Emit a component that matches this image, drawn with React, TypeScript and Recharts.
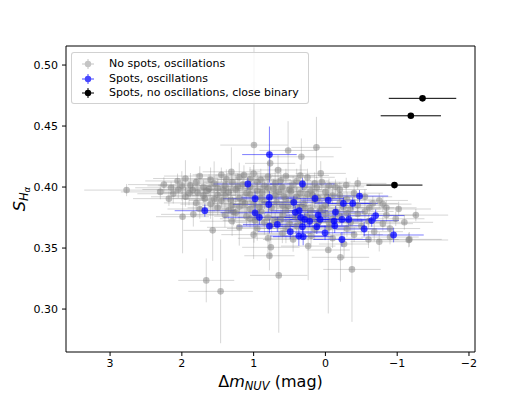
import React from 'react';
import { ScatterChart, Scatter, XAxis, YAxis, ErrorBar } from 'recharts';

// [x (Δm_NUV), y (S_Hα), xErr, yErr]
const grayPoints: number[][] = [
  [2.77, 0.3975, 0.59, 0.005], [2.18, 0.3905, 0.5, 0.006], [1.99, 0.3757, 0.37, 0.03], [1.84, 0.3776, 0.45, 0.01],
  [1.57, 0.3645, 0.41, 0.025], [1.66, 0.3235, 0.39, 0.018], [1.46, 0.3145, 0.45, 0.0425], [0.65, 0.3276, 0.4, 0.047],
  [0.78, 0.3437, 0.35, 0.012], [0.76, 0.3506, 0.4, 0.01], [0.24, 0.3516, 0.38, 0.028], [-0.04, 0.3484, 0.3, 0.052],
  [-0.21, 0.3424, 0.4, 0.02], [-0.37, 0.3325, 0.4, 0.043], [-0.26, 0.3533, 0.35, 0.012], [-0.75, 0.3552, 0.4, 0.008],
  [-1.16, 0.3566, 0.55, 0.006], [0.995, 0.4344, 0.47, 0.08], [0.125, 0.4325, 0.35, 0.025], [0.52, 0.43, 0.4, 0.024],
  [0.335, 0.4248, 0.45, 0.015], [0.66, 0.414, 0.4, 0.012], [0.77, 0.4194, 0.35, 0.01], [0.065, 0.4112, 0.35, 0.01],
  [-0.29, 0.4016, 0.35, 0.006], [-0.45, 0.403, 0.4, 0.005], [-0.14, 0.4002, 0.4, 0.006], [2.06, 0.405, 0.45, 0.006],
  [2.15, 0.3994, 0.5, 0.005], [1.85, 0.3975, 0.5, 0.005], [1.31, 0.4125, 0.4, 0.02], [1.135, 0.4098, 0.4, 0.008],
  [-1.02, 0.382, 0.45, 0.006], [-1.26, 0.377, 0.45, 0.005], [-0.98, 0.374, 0.4, 0.006], [-1.1, 0.3711, 0.4, 0.006],
  [-1.17, 0.3571, 0.45, 0.006], [-0.68, 0.3634, 0.4, 0.008], [-0.61, 0.383, 0.35, 0.006], [-0.66, 0.3866, 0.35, 0.006],
  [1.95, 0.407, 0.45, 0.015], [1.75, 0.409, 0.5, 0.008], [1.6, 0.406, 0.42, 0.01], [1.45, 0.41, 0.4, 0.006],
  [1.2, 0.408, 0.45, 0.012], [1.0, 0.411, 0.38, 0.007], [0.9, 0.406, 0.42, 0.009], [0.55, 0.409, 0.4, 0.006],
  [0.4, 0.405, 0.45, 0.01], [0.25, 0.408, 0.38, 0.007], [0.05, 0.404, 0.4, 0.006],
  [2.25, 0.402, 0.5, 0.006], [2.0, 0.401, 0.48, 0.012], [1.8, 0.404, 0.45, 0.007], [1.7, 0.4, 0.5, 0.006],
  [1.55, 0.403, 0.42, 0.018], [1.4, 0.401, 0.45, 0.007], [1.3, 0.404, 0.4, 0.006], [1.15, 0.402, 0.48, 0.01],
  [1.05, 0.4, 0.42, 0.006], [0.95, 0.404, 0.45, 0.008], [0.85, 0.401, 0.4, 0.006], [0.7, 0.403, 0.42, 0.012],
  [0.6, 0.4, 0.45, 0.006], [0.45, 0.402, 0.4, 0.007], [0.3, 0.4, 0.42, 0.006], [0.15, 0.403, 0.38, 0.009],
  [-0.05, 0.401, 0.4, 0.006],
  [2.3, 0.396, 0.55, 0.006], [2.05, 0.398, 0.5, 0.007], [1.9, 0.395, 0.45, 0.01], [1.65, 0.397, 0.48, 0.006],
  [1.5, 0.399, 0.45, 0.008], [1.35, 0.396, 0.42, 0.006], [1.25, 0.398, 0.45, 0.012], [1.1, 0.395, 0.4, 0.006],
  [0.95, 0.397, 0.45, 0.007], [0.8, 0.399, 0.42, 0.006], [0.65, 0.396, 0.4, 0.008], [0.5, 0.398, 0.45, 0.006],
  [0.35, 0.395, 0.42, 0.007], [0.2, 0.397, 0.4, 0.006], [0.0, 0.396, 0.42, 0.008], [-0.2, 0.398, 0.38, 0.006],
  [-0.4, 0.395, 0.4, 0.006],
  [1.95, 0.392, 0.48, 0.008], [1.7, 0.393, 0.45, 0.006], [1.55, 0.39, 0.42, 0.01], [1.4, 0.393, 0.45, 0.006],
  [1.2, 0.391, 0.42, 0.007], [1.05, 0.394, 0.45, 0.006], [0.9, 0.391, 0.4, 0.008], [0.7, 0.393, 0.42, 0.006],
  [0.55, 0.39, 0.45, 0.007], [0.4, 0.392, 0.4, 0.006], [0.25, 0.394, 0.42, 0.008], [0.1, 0.391, 0.4, 0.006],
  [-0.1, 0.393, 0.42, 0.007], [-0.3, 0.39, 0.4, 0.006], [-0.55, 0.392, 0.38, 0.006], [-0.75, 0.389, 0.4, 0.006],
  [1.8, 0.387, 0.45, 0.007], [1.6, 0.386, 0.42, 0.012], [1.45, 0.389, 0.45, 0.006], [1.3, 0.385, 0.42, 0.008],
  [1.15, 0.388, 0.4, 0.006], [1.0, 0.386, 0.45, 0.007], [0.85, 0.388, 0.42, 0.006], [0.6, 0.385, 0.4, 0.008],
  [0.45, 0.388, 0.42, 0.006], [0.3, 0.386, 0.45, 0.007], [0.15, 0.389, 0.4, 0.006], [0.0, 0.385, 0.42, 0.007],
  [-0.2, 0.387, 0.4, 0.006], [-0.45, 0.385, 0.42, 0.006], [-0.8, 0.386, 0.4, 0.006],
  [1.75, 0.382, 0.45, 0.008], [1.5, 0.383, 0.42, 0.006], [1.35, 0.381, 0.45, 0.01], [1.2, 0.384, 0.42, 0.006],
  [1.05, 0.382, 0.4, 0.007], [0.9, 0.38, 0.45, 0.006], [0.75, 0.383, 0.42, 0.008], [0.55, 0.381, 0.4, 0.006],
  [0.35, 0.384, 0.42, 0.007], [0.2, 0.381, 0.4, 0.006], [0.05, 0.383, 0.42, 0.006], [-0.15, 0.38, 0.4, 0.007],
  [-0.35, 0.382, 0.42, 0.006], [-0.55, 0.38, 0.4, 0.006], [-0.85, 0.383, 0.42, 0.006],
  [1.4, 0.377, 0.45, 0.01], [1.25, 0.379, 0.42, 0.006], [1.1, 0.376, 0.45, 0.008], [0.95, 0.378, 0.4, 0.006],
  [0.8, 0.375, 0.42, 0.007], [0.6, 0.377, 0.45, 0.006], [0.4, 0.379, 0.4, 0.007], [0.25, 0.376, 0.42, 0.006],
  [0.0, 0.378, 0.4, 0.007], [-0.2, 0.376, 0.42, 0.006], [-0.45, 0.378, 0.4, 0.006], [-0.85, 0.377, 0.42, 0.006],
  [1.3, 0.372, 0.45, 0.012], [1.05, 0.374, 0.42, 0.007], [0.85, 0.371, 0.4, 0.01], [0.7, 0.373, 0.42, 0.006],
  [0.5, 0.37, 0.45, 0.008], [0.35, 0.372, 0.4, 0.006], [0.1, 0.371, 0.42, 0.007], [-0.1, 0.374, 0.4, 0.006],
  [-0.35, 0.371, 0.42, 0.007], [-0.6, 0.372, 0.4, 0.006], [-0.8, 0.37, 0.42, 0.006],
  [1.2, 0.367, 0.45, 0.015], [0.95, 0.366, 0.42, 0.01], [0.75, 0.369, 0.4, 0.007], [0.55, 0.366, 0.42, 0.012],
  [0.4, 0.368, 0.4, 0.006], [0.15, 0.365, 0.42, 0.008], [-0.05, 0.367, 0.4, 0.006], [-0.3, 0.366, 0.42, 0.007],
  [-0.5, 0.368, 0.4, 0.006], [-0.9, 0.366, 0.42, 0.006],
  [1.0, 0.361, 0.45, 0.02], [0.8, 0.358, 0.42, 0.012], [0.6, 0.362, 0.4, 0.008], [0.45, 0.357, 0.42, 0.01],
  [0.2, 0.36, 0.4, 0.007], [-0.1, 0.358, 0.42, 0.008], [-0.4, 0.361, 0.4, 0.006], [-0.6, 0.357, 0.42, 0.007],
  [-0.9, 0.359, 0.4, 0.006],
  [1.88, 0.4015, 0.45, 0.01], [1.62, 0.3985, 0.5, 0.012], [1.42, 0.3975, 0.45, 0.009], [1.22, 0.4005, 0.42, 0.011],
  [0.88, 0.3955, 0.45, 0.013], [0.72, 0.3985, 0.4, 0.008], [0.58, 0.3925, 0.42, 0.01], [0.48, 0.3965, 0.45, 0.009],
  [0.18, 0.3935, 0.4, 0.011], [-0.02, 0.3915, 0.42, 0.008], [1.5, 0.3935, 0.45, 0.012], [1.32, 0.3895, 0.42, 0.01],
  [1.12, 0.3865, 0.45, 0.009], [0.92, 0.3835, 0.4, 0.011], [0.68, 0.3875, 0.42, 0.008], [0.52, 0.3845, 0.45, 0.012],
  [0.28, 0.3825, 0.4, 0.009], [0.08, 0.3805, 0.42, 0.01], [-0.25, 0.3835, 0.4, 0.008], [1.68, 0.3905, 0.45, 0.01],
  [1.28, 0.3795, 0.42, 0.011], [0.98, 0.3725, 0.45, 0.012], [0.62, 0.3735, 0.4, 0.009], [0.42, 0.3755, 0.42, 0.01],
  [0.18, 0.3745, 0.4, 0.008], [-0.05, 0.3705, 0.42, 0.009], [-0.3, 0.3785, 0.4, 0.008], [1.78, 0.3955, 0.48, 0.009],
  [2.12, 0.3945, 0.5, 0.008], [1.05, 0.4065, 0.45, 0.01], [0.8, 0.4085, 0.42, 0.012], [0.35, 0.4095, 0.4, 0.009],
  [0.62, 0.4055, 0.42, 0.01], [1.38, 0.4065, 0.45, 0.008], [0.12, 0.3995, 0.42, 0.009], [-0.2, 0.3935, 0.4, 0.007],
];

const bluePoints: number[][] = [
  [1.68, 0.3806, 0.42, 0.005], [1.08, 0.4025, 0.48, 0.005], [0.32, 0.4025, 0.45, 0.005], [0.78, 0.4266, 0.38, 0.023],
  [0.98, 0.3904, 0.45, 0.006], [0.78, 0.3916, 0.4, 0.005], [0.79, 0.3857, 0.5, 0.006], [0.44, 0.3875, 0.45, 0.005],
  [0.145, 0.3906, 0.4, 0.004], [-0.04, 0.3893, 0.38, 0.005], [-0.25, 0.3866, 0.4, 0.005], [-0.38, 0.3866, 0.35, 0.005],
  [-0.475, 0.3926, 0.4, 0.005], [0.98, 0.3789, 0.48, 0.006], [0.92, 0.3752, 0.5, 0.006], [0.42, 0.3793, 0.42, 0.005],
  [0.365, 0.3806, 0.4, 0.005], [0.1, 0.377, 0.45, 0.005], [-0.14, 0.3795, 0.4, 0.005], [-0.325, 0.3735, 0.38, 0.005],
  [-0.7, 0.3766, 0.4, 0.005], [-0.645, 0.3725, 0.38, 0.005], [0.78, 0.368, 0.45, 0.006], [0.67, 0.3694, 0.48, 0.006],
  [0.345, 0.3752, 0.4, 0.005], [0.32, 0.3675, 0.45, 0.006], [0.29, 0.3735, 0.42, 0.005], [0.22, 0.3721, 0.4, 0.005],
  [0.075, 0.3735, 0.42, 0.005], [-0.12, 0.3721, 0.4, 0.005], [-0.23, 0.3735, 0.38, 0.005], [-0.13, 0.3683, 0.42, 0.006],
  [0.12, 0.3675, 0.45, 0.006], [-0.54, 0.3656, 0.4, 0.006], [-0.95, 0.3607, 0.42, 0.006], [-0.23, 0.357, 0.4, 0.006],
  [0.005, 0.3625, 0.42, 0.006], [0.49, 0.3634, 0.45, 0.006], [0.37, 0.3598, 0.4, 0.008], [0.31, 0.3593, 0.42, 0.007],
];

const blackPoints: number[][] = [
  [-1.353, 0.4727, 0.47, 0.001],
  [-1.19, 0.4584, 0.42, 0.001],
  [-0.962, 0.4016, 0.39, 0.001],
];

const xTicks = [3, 2, 1, 0, -1, -2];
const yTicks = [0.3, 0.35, 0.4, 0.45, 0.5];
const legendLabels = ['No spots, oscillations', 'Spots, oscillations', 'Spots, no oscillations, close binary'];

const toRows = (pts: number[][]) => pts.map(([x, y, ex, ey]) => ({ x, y, ex, ey }));
const grayData = toRows(grayPoints);
const blueData = toRows(bluePoints);
const blackData = toRows(blackPoints);

const FONT = 'DejaVu Sans, sans-serif';

const dot = (fill: string, r: number) => (props: any) =>
  <circle cx={props.cx} cy={props.cy} r={r} fill={fill} />;

const fmtX = (v: number) => (v < 0 ? '\u2212' + Math.abs(v) : String(v));
const fmtY = (v: number) => v.toFixed(2);

const LegendGlyph = ({ color }: { color: string }) => (
  <svg width={14} height={12} style={{ display: 'block' }}>
    <line x1={1} y1={6} x2={13} y2={6} stroke={color} strokeWidth={1} />
    <line x1={7} y1={1} x2={7} y2={11} stroke={color} strokeWidth={1} />
    <circle cx={7} cy={6} r={3.2} fill={color} />
  </svg>
);

export default function App() {
  const legendColors = ['#c4c4c4', '#4646ff', '#000000'];
  return (
    <div style={{ position: 'absolute', left: 0, top: 0, width: 528, height: 396, background: '#fff' }}>
      <ScatterChart width={528} height={396} margin={{ top: 0, right: 0, bottom: 0, left: 0 }}>
        <XAxis
          type="number" dataKey="x" domain={[-2.084, 3.614]} reversed allowDataOverflow
          ticks={xTicks} tickFormatter={fmtX} height={44} tickSize={4} tickMargin={3}
          axisLine={{ stroke: '#000' }} tickLine={{ stroke: '#000' }}
          tick={{ fill: '#000', fontSize: 11, fontFamily: FONT }} interval={0}
        />
        <XAxis
          xAxisId="top" orientation="top" type="number" domain={[-2.084, 3.614]} reversed allowDataOverflow
          height={46} tick={false} tickLine={false} axisLine={{ stroke: '#000' }}
        />
        <YAxis
          type="number" dataKey="y" domain={[0.2648, 0.5156]} allowDataOverflow
          ticks={yTicks} tickFormatter={fmtY} width={66} tickSize={4} tickMargin={4}
          axisLine={{ stroke: '#000' }} tickLine={{ stroke: '#000' }}
          tick={{ fill: '#000', fontSize: 11, fontFamily: FONT }} interval={0}
        />
        <YAxis
          yAxisId="right" orientation="right" type="number" domain={[0.2648, 0.5156]} allowDataOverflow
          width={53} tick={false} tickLine={false} axisLine={{ stroke: '#000' }}
        />
        <Scatter data={grayData} isAnimationActive={false} shape={dot('rgba(128,128,128,0.5)', 3.3)}>
          <ErrorBar dataKey="ex" direction="x" width={0} stroke="rgba(128,128,128,0.32)" strokeWidth={1} />
          <ErrorBar dataKey="ey" direction="y" width={0} stroke="rgba(128,128,128,0.32)" strokeWidth={1} />
        </Scatter>
        <Scatter data={blueData} isAnimationActive={false} shape={dot('rgba(0,0,255,0.72)', 3.4)}>
          <ErrorBar dataKey="ex" direction="x" width={0} stroke="rgba(0,0,255,0.5)" strokeWidth={1} />
          <ErrorBar dataKey="ey" direction="y" width={0} stroke="rgba(0,0,255,0.5)" strokeWidth={1} />
        </Scatter>
        <Scatter data={blackData} isAnimationActive={false} shape={dot('#000', 3.3)}>
          <ErrorBar dataKey="ex" direction="x" width={0} stroke="#000" strokeWidth={1} />
          <ErrorBar dataKey="ey" direction="y" width={0} stroke="#000" strokeWidth={1} />
        </Scatter>
      </ScatterChart>
      <svg width={528} height={396} style={{ position: 'absolute', left: 0, top: 0, pointerEvents: 'none' }}>
        <text x={270.5} y={387} textAnchor="middle" fontSize={16} fontFamily={FONT} fill="#000">
          Δ<tspan fontStyle="italic">m</tspan>
          <tspan fontStyle="italic" fontSize={11.5} dy={3}>NUV</tspan>
          <tspan dy={-3}> (mag)</tspan>
        </text>
        <text x={25} y={199} textAnchor="middle" fontSize={16} fontFamily={FONT} fill="#000"
          transform="rotate(-90 25 199)">
          <tspan fontStyle="italic">S</tspan>
          <tspan fontStyle="italic" fontSize={11.5} dy={3}>H</tspan>
          <tspan fontStyle="italic" fontSize={8.5} dy={2}>α</tspan>
        </text>
      </svg>
      <div style={{
        position: 'absolute', left: 71, top: 52, width: 238, height: 52,
        border: '1px solid rgba(204,204,204,0.9)', borderRadius: 3, background: 'rgba(255,255,255,0.8)',
        fontFamily: FONT, fontSize: 11, color: '#000', boxSizing: 'border-box',
      }}>
        {legendLabels.map((label, i) => (
          <div key={label} style={{ position: 'absolute', left: 0, top: 4 + i * 14.7, height: 14, display: 'flex', alignItems: 'center' }}>
            <div style={{ marginLeft: 9 }}><LegendGlyph color={legendColors[i]} /></div>
            <span style={{ marginLeft: 14, whiteSpace: 'nowrap', lineHeight: '14px' }}>{label}</span>
          </div>
        ))}
      </div>
    </div>
  );
}
